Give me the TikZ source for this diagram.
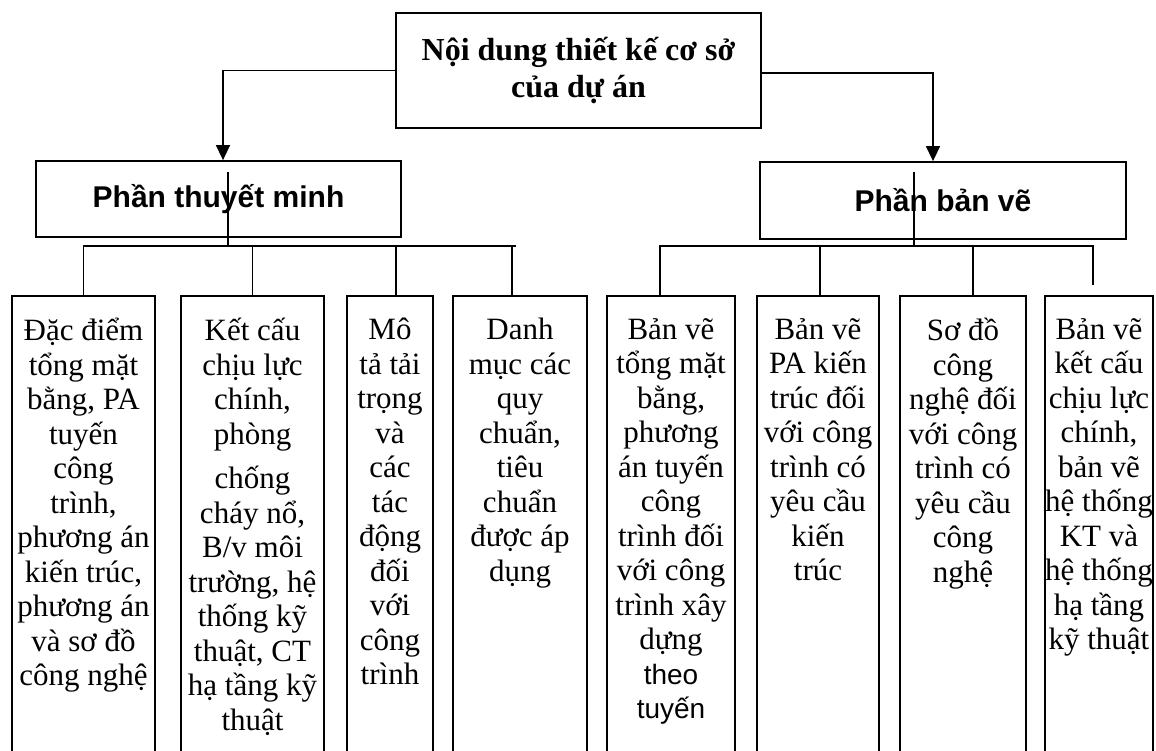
\documentclass[tikz,border=0pt]{standalone}
\usepackage{fontspec}
\setmainfont{Liberation Serif}
\newfontfamily\arialfont{Liberation Sans}
\usetikzlibrary{arrows.meta}
\tikzset{
  box/.style={draw, line width=1.8pt, inner sep=0pt},
  leaf/.style={box, minimum height=504pt, anchor=center},
  conn/.style={line width=1.5pt},
  arr/.style={conn, -{Triangle[length=15pt,width=14pt]}},
  leaftext/.style={anchor=north, inner sep=0pt, align=center,
    font=\fontsize{31pt}{34.5pt}\selectfont},
}
\begin{document}
\begin{tikzpicture}[x=1pt,y=-1pt]
\useasboundingbox (0,0) rectangle (1156,750);
\fill[white] (0,0) rectangle (1156,750);

% root and the two main parts
\node[box, minimum width=365pt, minimum height=115pt, align=center,
  font=\fontsize{32pt}{37pt}\selectfont\bfseries] (T) at (578.5,70.5)
  {Nội dung thiết kế cơ sở\\của dự án};
\node[box, minimum width=365pt, minimum height=76pt,
  font=\arialfont\bfseries\fontsize{30pt}{34pt}\selectfont] (L) at (218.5,199) {Phần thuyết minh};
\node[box, minimum width=366pt, minimum height=77pt,
  font=\arialfont\bfseries\fontsize{30pt}{34pt}\selectfont] (R) at (943,200.5) {Phần bản vẽ};

% leaf boxes (open at the bottom edge of the page)
\node[leaf, minimum width=143pt] (b1) at (83.5,548) {};
\node[leaf, minimum width=143pt] (b2) at (252.5,548) {};
\node[leaf, minimum width=86pt]  (b3) at (390,548) {};
\node[leaf, minimum width=134pt] (b4) at (520,548) {};
\node[leaf, minimum width=128pt] (b5) at (671,548) {};
\node[leaf, minimum width=122pt] (b6) at (818,548) {};
\node[leaf, minimum width=126pt] (b7) at (963,548) {};
\node[leaf, minimum width=108pt] (b8) at (1099,548) {};

% leaf texts
\node[leaftext] (t1) at ([yshift=-23pt]b1.north)
  {Đặc điểm\\tổng mặt\\bằng, PA\\tuyến\\công\\trình,\\phương án\\kiến trúc,\\phương án\\và sơ đồ\\công nghệ};
\node[leaftext] (t2) at ([yshift=-23pt]b2.north)
  {Kết cấu\\chịu lực\\chính,\\phòng\\[10pt]chống\\cháy nổ,\\B/v môi\\trường, hệ\\thống kỹ\\thuật, CT\\hạ tầng kỹ\\thuật};
\node[leaftext] (t3) at ([yshift=-23pt]b3.north)
  {Mô\\tả tải\\trọng\\và\\các\\tác\\động\\đối\\với\\công\\trình};
\node[leaftext] (t4) at ([yshift=-23pt]b4.north)
  {Danh\\mục các\\quy\\chuẩn,\\tiêu\\chuẩn\\được áp\\dụng};
\node[leaftext] (t5) at ([yshift=-23pt]b5.north)
  {Bản vẽ\\tổng mặt\\bằng,\\phương\\án tuyến\\công\\trình đối\\với công\\trình xây\\dựng\\{\arialfont\fontsize{28pt}{34.5pt}\selectfont theo}\\{\arialfont\fontsize{28pt}{34.5pt}\selectfont tuyến}};
\node[leaftext] (t6) at ([yshift=-23pt]b6.north)
  {Bản vẽ\\PA kiến\\trúc đối\\với công\\trình có\\yêu cầu\\kiến\\trúc};
\node[leaftext] (t7) at ([yshift=-23pt]b7.north)
  {Sơ đồ\\công\\nghệ đối\\với công\\trình có\\yêu cầu\\công\\nghệ};
\node[leaftext] (t8) at ([yshift=-23pt]b8.north)
  {Bản vẽ\\kết cấu\\chịu lực\\chính,\\bản vẽ\\hệ thống\\KT và\\hệ thống\\hạ tầng\\kỹ thuật};

% arrows from the root
\draw[arr] (T.west) -| ([xshift=4.5pt]L.north);
\draw[arr] ([yshift=-2.5pt]T.east) -| ([xshift=-10pt]R.north);

% bus points
\coordinate (Ltop) at (228,172);
\coordinate (Lbus) at (228,246);
\coordinate (Lend) at (516,246);
\coordinate (Rtop) at (914,172);
\coordinate (Rbus) at (914,246);
\coordinate (b8end) at (1093,285);

% left branch
\draw[conn] (Ltop) -- (Lbus);
\draw[conn] (Lend) -- (Lbus) -| (b1.north);
\draw[conn] ([xshift=-8pt]b4.north) -- ([xshift=-8pt]b4.north |- Lbus);
\draw[conn] (b2.north) -- (b2.north |- Lbus);
\draw[conn] ([xshift=6pt]b3.north) -- ([xshift=6pt]b3.north |- Lbus);

% right branch
\draw[conn] (Rtop) -- (Rbus);
\draw[conn] ([xshift=-11pt]b5.north) |- (Rbus) -| (b8end);
\draw[conn] ([xshift=2pt]b6.north) -- ([xshift=2pt]b6.north |- Rbus);
\draw[conn] ([xshift=10pt]b7.north) -- ([xshift=10pt]b7.north |- Rbus);
\end{tikzpicture}
\end{document}
